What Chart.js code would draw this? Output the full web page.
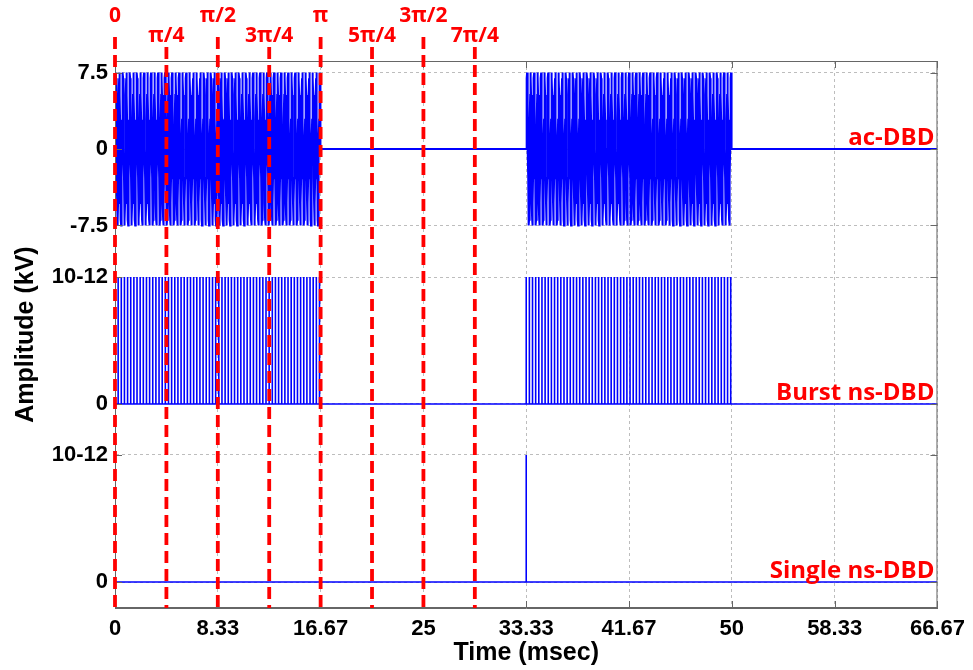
<!DOCTYPE html>
<html>
<head>
<meta charset="utf-8">
<script src="https://cdn.jsdelivr.net/npm/chart.js@4.4.0/dist/chart.umd.min.js"></script>
<style>
  html, body { margin: 0; padding: 0; background: #fff; }
  #wrap { width: 973px; height: 670px; }
</style>
</head>
<body>
<div id="wrap"><canvas id="chart" width="973" height="670"></canvas></div>
<script>
// time axis (msec)
const xTickValues = [0, 8.333, 16.667, 25, 33.333, 41.667, 50, 58.333, 66.667];
const xTickLabels = ['0', '8.33', '16.67', '25', '33.33', '41.67', '50', '58.33', '66.67'];

// phase markers (30 Hz modulation, 2π = 33.33 ms)
const phaseTimes = [0, 4.167, 8.333, 12.5, 16.667, 20.833, 25, 29.167];
const phaseLabels = ['0', 'π/4', 'π/2', '3π/4', 'π', '5π/4', '3π/2', '7π/4'];

// discharge on-windows (msec)
const burstStarts = [0, 33.333];
const burstEnds = [16.667, 50];
const singlePulseTimes = [0, 33.333];

// amplitudes (kV) and carrier periods (msec)
const acAmplitude = 7.5;
const pulsePeak = 11;      // shown as "10-12"
const acPeriod = 0.285;
const pulsePeriod = 0.255;

const traceNames = ['ac-DBD', 'Burst ns-DBD', 'Single ns-DBD'];
const yTickLabels = ['0', '10-12', '0', '10-12', '-7.5', '0', '7.5'];

// stacking of the three traces on one axis (display units)
const baseLevels = [459, 204, 26];       // ac, burst, single
const acGain = 76.5 / acAmplitude;
const pulseGain = 127 / pulsePeak;
const yTickValues = [
  baseLevels[2], baseLevels[2] + pulseGain * pulsePeak,
  baseLevels[1], baseLevels[1] + pulseGain * pulsePeak,
  baseLevels[0] - acGain * acAmplitude, baseLevels[0], baseLevels[0] + acGain * acAmplitude
];
const xMax = 66.667;

function acTrace() {
  const b = baseLevels[0];
  const pts = [{ x: 0, y: b }];
  const step = acPeriod / 16;
  burstStarts.forEach((s, i) => {
    for (let t = s; t < burstEnds[i]; t += step) {
      pts.push({ x: t, y: b + acGain * acAmplitude * Math.sin(2 * Math.PI * (t - s) / acPeriod) });
    }
    pts.push({ x: burstEnds[i], y: b });
  });
  pts.push({ x: xMax, y: b });
  return pts;
}

function burstTrace() {
  const b = baseLevels[1];
  const top = b + pulseGain * pulsePeak;
  const pts = [{ x: 0, y: b }];
  burstStarts.forEach((s, i) => {
    for (let t = s; t <= burstEnds[i]; t += pulsePeriod) {
      pts.push({ x: t, y: b }, { x: t, y: top }, { x: t, y: b });
    }
  });
  pts.push({ x: xMax, y: b });
  return pts;
}

function singleTrace() {
  const b = baseLevels[2];
  const top = b + pulseGain * pulsePeak;
  const pts = [];
  singlePulseTimes.forEach(t => {
    pts.push({ x: t, y: b }, { x: t, y: top }, { x: t, y: b });
  });
  pts.push({ x: xMax, y: b });
  return pts;
}

const overlay = {
  id: 'overlay',
  afterDatasetsDraw(chart) {
    const { ctx, chartArea: a, scales: { x, y } } = chart;
    ctx.save();
    // axes box
    ctx.setLineDash([]);
    ctx.strokeStyle = '#666';
    ctx.lineWidth = 1;
    ctx.strokeRect(a.left + 0.5, a.top + 0.5, a.width - 1, a.height - 1);
    // inside tick marks
    ctx.beginPath();
    xTickValues.forEach(v => {
      const px = Math.round(x.getPixelForValue(v)) + 0.5;
      ctx.moveTo(px, a.bottom); ctx.lineTo(px, a.bottom - 7);
      ctx.moveTo(px, a.top); ctx.lineTo(px, a.top + 7);
    });
    yTickValues.forEach(v => {
      const py = Math.round(y.getPixelForValue(v)) + 0.5;
      ctx.moveTo(a.left, py); ctx.lineTo(a.left + 7, py);
      ctx.moveTo(a.right, py); ctx.lineTo(a.right - 7, py);
    });
    ctx.stroke();
    // trace names
    ctx.fillStyle = '#ff0000';
    ctx.font = 'bold 24px "Open Sans"';
    ctx.textAlign = 'right';
    ctx.textBaseline = 'alphabetic';
    traceNames.forEach((n, i) => {
      ctx.fillText(n, a.right - 3, y.getPixelForValue(baseLevels[i]) - 4);
    });
    // phase markers
    ctx.strokeStyle = '#ff0000';
    ctx.lineWidth = 3.8;
    ctx.setLineDash([12, 6]);
    phaseTimes.forEach((t, i) => {
      const px = x.getPixelForValue(t);
      ctx.beginPath();
      ctx.moveTo(px, i % 2 ? 47 : 37);
      ctx.lineTo(px, a.bottom);
      ctx.stroke();
    });
    ctx.setLineDash([]);
    ctx.font = 'bold 21px "Open Sans"';
    ctx.textAlign = 'center';
    ctx.textBaseline = 'middle';
    phaseTimes.forEach((t, i) => {
      ctx.fillText(phaseLabels[i], x.getPixelForValue(t), i % 2 ? 36 : 16);
    });
    ctx.restore();
  }
};

const tickFont = { family: '"Liberation Sans", Arial', weight: 'bold', size: 22 };
const titleFont = { family: '"Liberation Sans", Arial', weight: 'bold', size: 25 };

new Chart(document.getElementById('chart'), {
  type: 'scatter',
  data: {
    datasets: [
      { label: traceNames[0], data: acTrace(), borderWidth: 2 },
      { label: traceNames[1], data: burstTrace(), borderWidth: 1.6 },
      { label: traceNames[2], data: singleTrace(), borderWidth: 1.6 }
    ].map(d => Object.assign(d, {
      showLine: true, pointRadius: 0, borderColor: '#0000ff', tension: 0, fill: false
    }))
  },
  options: {
    responsive: false,
    animation: false,
    layout: { padding: { top: 61, right: 32, left: 0, bottom: 0 } },
    plugins: { legend: { display: false }, tooltip: { enabled: false } },
    scales: {
      x: {
        type: 'linear', min: 0, max: xMax,
        afterBuildTicks: s => { s.ticks = xTickValues.map(v => ({ value: v })); },
        afterFit: s => { s.height = 62; },
        ticks: {
          callback: (v, i) => xTickLabels[i], font: tickFont, color: '#000',
          padding: 8, maxRotation: 0, autoSkip: false
        },
        grid: { color: '#bdbdbd', lineWidth: 1, drawTicks: false },
        border: { display: true, color: '#666', dash: [3, 3] },
        title: { display: true, text: 'Time (msec)', font: titleFont, color: '#000', padding: { top: 0, bottom: 2 } }
      },
      y: {
        type: 'linear', min: 0, max: 547,
        afterBuildTicks: s => { s.ticks = yTickValues.map(v => ({ value: v })); },
        afterFit: s => { s.width = 115; },
        ticks: {
          callback: (v, i) => yTickLabels[i], font: tickFont, color: '#000',
          padding: 7, autoSkip: false
        },
        grid: { color: '#bdbdbd', lineWidth: 1, drawTicks: false },
        border: { display: true, color: '#666', dash: [3, 3] },
        title: { display: true, text: 'Amplitude (kV)', font: titleFont, color: '#000', padding: { top: 11, bottom: 0 } }
      }
    }
  },
  plugins: [overlay]
});
</script>
</body>
</html>
